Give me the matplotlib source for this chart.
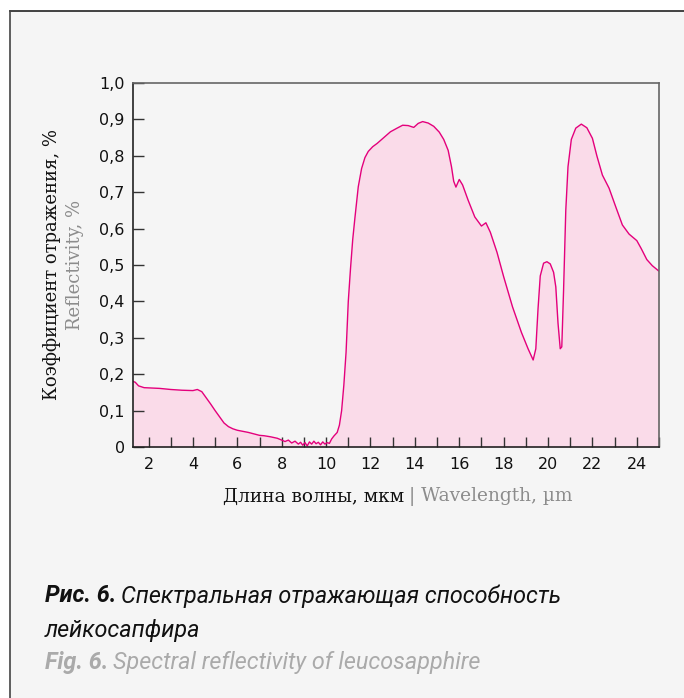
import matplotlib
matplotlib.use("Agg")
import matplotlib.pyplot as plt
from matplotlib.lines import Line2D
from matplotlib.patches import Rectangle

# spectrum
wavelength = [
    1.3, 1.4, 1.55, 1.8, 2.5, 3.0, 3.5, 4.0, 4.2, 4.4, 4.6, 4.8, 5.0, 5.2,
    5.4, 5.6, 5.8, 6.0, 6.5, 7.0, 7.2, 7.5, 7.8, 8.0,
    8.15, 8.3, 8.45, 8.6, 8.75, 8.85, 8.95, 9.05, 9.15, 9.25, 9.35, 9.45,
    9.55, 9.65, 9.75, 9.85, 9.95, 10.05, 10.15, 10.25, 10.35, 10.5, 10.6,
    10.7, 10.8, 10.9, 11.0, 11.1, 11.2, 11.3, 11.45, 11.6, 11.75, 11.9,
    12.1, 12.3, 12.6, 12.9, 13.2, 13.45, 13.7, 13.95, 14.15, 14.35, 14.6,
    14.85, 15.1, 15.3, 15.5, 15.65, 15.75, 15.85, 16.0, 16.15, 16.4, 16.7,
    17.0, 17.2, 17.4, 17.7, 18.0, 18.4, 18.8, 19.1, 19.33, 19.45, 19.55,
    19.65, 19.8, 19.95, 20.1, 20.25, 20.35, 20.45, 20.55, 20.62, 20.7, 20.8,
    20.9, 21.05, 21.25, 21.5, 21.75, 22.0, 22.2, 22.45, 22.75, 23.05, 23.35,
    23.65, 24.0, 24.2, 24.45, 24.7, 25.0,
]
reflectance = [
    0.180, 0.178, 0.168, 0.163, 0.161, 0.158, 0.156, 0.155, 0.158, 0.152,
    0.135, 0.118, 0.100, 0.083, 0.066, 0.056, 0.050, 0.046, 0.040, 0.032,
    0.031, 0.028, 0.024, 0.019,
    0.015, 0.019, 0.011, 0.016, 0.008, 0.013, 0.005, 0.012, 0.003, 0.014,
    0.008, 0.016, 0.009, 0.013, 0.006, 0.014, 0.008, 0.012, 0.010, 0.022,
    0.030, 0.040, 0.060, 0.100, 0.170, 0.260, 0.400, 0.490, 0.570, 0.630,
    0.715, 0.765, 0.795, 0.812, 0.825, 0.834, 0.850, 0.866, 0.876, 0.884,
    0.883, 0.878, 0.889, 0.894, 0.890, 0.881, 0.865, 0.845, 0.815, 0.770,
    0.730, 0.714, 0.735, 0.720, 0.678, 0.632, 0.607, 0.616, 0.590, 0.535,
    0.468, 0.385, 0.315, 0.270, 0.239, 0.270, 0.380, 0.470, 0.505, 0.509,
    0.503, 0.480, 0.440, 0.340, 0.270, 0.275, 0.430, 0.650, 0.770, 0.845,
    0.876, 0.887, 0.877, 0.848, 0.800, 0.747, 0.711, 0.660, 0.610, 0.585,
    0.567, 0.545, 0.515, 0.498, 0.483,
]

x_ticks = [2, 4, 6, 8, 10, 12, 14, 16, 18, 20, 22, 24]
y_ticks = [0, 0.1, 0.2, 0.3, 0.4, 0.5, 0.6, 0.7, 0.8, 0.9, 1.0]
y_tick_labels = ['0', '0,1', '0,2', '0,3', '0,4', '0,5',
                 '0,6', '0,7', '0,8', '0,9', '1,0']

LINE = '#e4007c'
FILL = '#fadbe9'
BG = '#f5f5f5'
GRAY = '#8c8c8c'
SERIF = ['DejaVu Serif']
CAPTION = ['Roboto', 'DejaVu Sans']

W, H = 684, 698
fig = plt.figure(figsize=(W / 100, H / 100), dpi=100)
fig.patch.set_facecolor('white')

# panel background and frame
fig.patches.append(Rectangle((10 / W, 0), 1 - 10 / W, 1 - 11 / H,
                             transform=fig.transFigure, facecolor=BG,
                             edgecolor='none', zorder=-5))
fig.lines.append(Line2D([10 / W, 1], [1 - 11 / H, 1 - 11 / H],
                        transform=fig.transFigure, color='#222', lw=1.2))
fig.lines.append(Line2D([10 / W, 10 / W], [0, 1 - 11 / H],
                        transform=fig.transFigure, color='#444', lw=1.2))

ax = fig.add_axes([133 / W, 1 - 447 / H, (659 - 133) / W, (447 - 83) / H])
ax.set_facecolor(BG)
ax.fill_between(wavelength, reflectance, 0, color=FILL, lw=0)
ax.plot(wavelength, reflectance, color=LINE, lw=1.0)

ax.set_xlim(1.3, 25)
ax.set_ylim(0, 1.0)
ax.set_xticks(x_ticks)
ax.set_xticks(range(2, 26), minor=True)
ax.set_yticks(y_ticks)
ax.set_yticklabels(y_tick_labels)
ax.tick_params(axis='both', which='both', direction='in', colors='#333',
               labelcolor='#111', labelsize=11.5)
ax.tick_params(axis='x', which='both', length=7, width=1, pad=7)
ax.tick_params(axis='y', length=8, width=1, pad=6)

for side in ('top', 'right'):
    ax.spines[side].set_color('#666')
    ax.spines[side].set_linewidth(1.2)
for side in ('left', 'bottom'):
    ax.spines[side].set_color('#222')
    ax.spines[side].set_linewidth(1.2)

# axis titles, Russian in black and English in gray
fig.text(52 / W, 1 - 265 / H, 'Коэффициент отражения, %', rotation=90,
         ha='center', va='center', fontsize=13, family=SERIF, color='#111')
fig.text(75 / W, 1 - 265 / H, 'Reflectivity, %', rotation=90,
         ha='center', va='center', fontsize=13, family=SERIF, color=GRAY)

fig.text(404 / W, 1 - 497 / H, 'Длина волны, мкм', ha='right',
         va='center', fontsize=13.4, family=SERIF, color='#111')
fig.text(409 / W, 1 - 497 / H, '| Wavelength, µm', ha='left',
         va='center', fontsize=13.4, family=SERIF, color=GRAY)


def caption_line(y, bold, rest, color):
    t = fig.text(45 / W, 1 - y / H, bold, ha='left', va='center',
                 fontsize=16.8, family=CAPTION, style='italic', weight='bold',
                 color=color)
    fig.canvas.draw()
    x1 = t.get_window_extent().x1
    fig.text(x1 / W + 5 / W, 1 - y / H, rest, ha='left', va='center',
             fontsize=16.8, family=CAPTION, style='italic', color=color)


caption_line(596, 'Рис. 6.', 'Спектральная отражающая способность', '#111')
fig.text(45 / W, 1 - 631 / H, 'лейкосапфира', ha='left', va='center',
         fontsize=16.8, family=CAPTION, style='italic', color='#111')
caption_line(662, 'Fig. 6.', 'Spectral reflectivity of leucosapphire',
             '#aaa')

fig.savefig('out.png', dpi=100, facecolor=fig.get_facecolor())
